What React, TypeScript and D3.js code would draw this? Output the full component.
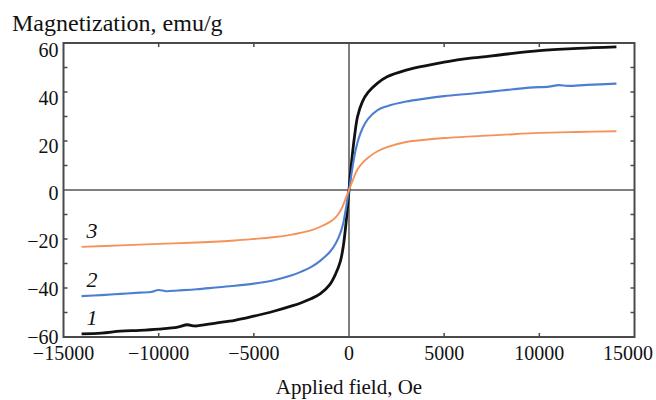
import React from 'react';
import * as d3 from 'd3';

// curve 1 (black)
const field1 = [-14050, -13000, -12000, -11000, -10000, -9000, -8500, -8100, -7000, -6000, -5000, -4000, -3000, -2500, -2000, -1500, -1000, -700, -450, -300, -150, 0, 150, 300, 450, 700, 1000, 1500, 2000, 3000, 4000, 5000, 6500, 8000, 10000, 12000, 14050];
const mag1 = [-58.7, -58.4, -57.6, -57.3, -56.8, -56.0, -55.0, -55.5, -54.3, -53.2, -51.5, -49.6, -47.3, -46.0, -44.4, -42.3, -38.5, -34.2, -29.0, -23.0, -13.0, 0, 12.5, 22.5, 30.0, 36.0, 39.8, 43.6, 46.2, 48.9, 50.7, 52.2, 53.9, 55.2, 56.9, 57.8, 58.4];

// curve 2 (blue)
const field2 = [-14050, -13000, -12000, -11000, -10400, -10000, -9600, -9000, -8000, -7000, -6000, -5000, -4000, -3000, -2500, -2000, -1500, -1000, -700, -450, -300, -150, 0, 150, 300, 450, 700, 1000, 1500, 2000, 3000, 4000, 5000, 6500, 8000, 9500, 10500, 11000, 11500, 12500, 14050];
const mag2 = [-43.3, -42.9, -42.4, -41.9, -41.6, -40.8, -41.3, -41.0, -40.5, -39.8, -39.1, -38.2, -36.9, -34.8, -33.3, -31.5, -28.8, -25.2, -21.8, -17.5, -13.5, -7.0, 0, 7.5, 14.5, 19.5, 25.0, 29.0, 32.6, 34.2, 36.1, 37.3, 38.3, 39.4, 40.6, 41.8, 42.2, 42.8, 42.5, 42.9, 43.4];

// curve 3 (orange)
const field3 = [-14050, -12000, -10000, -8000, -6000, -5000, -4000, -3000, -2500, -2000, -1500, -1000, -700, -450, -300, -150, 0, 150, 300, 450, 700, 1000, 1500, 2000, 3000, 4000, 5000, 6500, 8000, 10000, 12000, 14050];
const mag3 = [-23.2, -22.6, -22.0, -21.4, -20.6, -20.0, -19.3, -18.2, -17.4, -16.5, -15.0, -13.0, -11.2, -8.5, -6.0, -3.0, 0, 3.0, 6.0, 8.5, 11.0, 13.2, 15.8, 17.5, 19.6, 20.5, 21.2, 21.9, 22.5, 23.3, 23.7, 24.0];

const seriesNames = ['1', '2', '3'];
const xTickLabels = [-15000, -10000, -5000, 0, 5000, 10000, 15000];
const yTickLabels = [-60, -40, -20, 0, 20, 40, 60];
const yTicks = [-50, -40, -30, -20, -10, 10, 20, 30, 40, 50];
const xTicks = [-10000, -5000, 5000, 10000];

const width = 656;
const height = 400;
const left = 63.5;
const right = 634.5;
const top = 43;
const bottom = 337;
const font = '"Liberation Serif", "Times New Roman", serif';

const fmt = (v: number) => (v < 0 ? '\u2212' + Math.abs(v) : String(v));

export default function App() {
  const x = d3.scaleLinear().domain([-15000, 15000]).range([left, right]);
  const y = d3.scaleLinear().domain([-60, 60]).range([bottom, top]);
  // the printed labels sit on a slightly compressed scale in the original
  const yLab = d3.scaleLinear().domain([-60, 60]).range([336.7, 50]);

  const series = [
    { name: seriesNames[0], field: field1, mag: mag1, color: '#111111', w: 2.8 },
    { name: seriesNames[1], field: field2, mag: mag2, color: '#4d7fd0', w: 2.1 },
    { name: seriesNames[2], field: field3, mag: mag3, color: '#f5925a', w: 1.9 },
  ];

  const line = d3
    .line<[number, number]>()
    .x((d) => x(d[0]))
    .y((d) => y(d[1]))
    .curve(d3.curveCatmullRom.alpha(0.5));

  const tick = 4;
  const frame = '#4a4a4a';

  return (
    <svg
      width={width}
      height={height}
      style={{ position: 'absolute', left: 0, top: 0, background: '#fff' }}
      fontFamily={font}
    >
      {/* zero lines */}
      <line x1={left} x2={right} y1={y(0)} y2={y(0)} stroke="#555" strokeWidth={1.5} />
      <line x1={x(0)} x2={x(0)} y1={top} y2={bottom} stroke="#555" strokeWidth={1.5} />

      {/* ticks */}
      {xTicks.map((t) => (
        <g key={'xt' + t} stroke={frame} strokeWidth={1.5}>
          <line x1={x(t)} x2={x(t)} y1={bottom} y2={bottom - tick} />
          <line x1={x(t)} x2={x(t)} y1={top} y2={top + tick} />
        </g>
      ))}
      {yTicks.map((t) => (
        <g key={'yt' + t} stroke={frame} strokeWidth={1.5}>
          <line x1={left} x2={left + tick} y1={y(t)} y2={y(t)} />
          <line x1={right} x2={right - tick} y1={y(t)} y2={y(t)} />
        </g>
      ))}

      {/* curves */}
      {series.map((s) => (
        <path
          key={s.name}
          d={line(s.field.map((f, i) => [f, s.mag[i]] as [number, number])) || ''}
          fill="none"
          stroke={s.color}
          strokeWidth={s.w}
          strokeLinejoin="round"
        />
      ))}

      {/* curve labels */}
      {series.map((s) => (
        <text
          key={'l' + s.name}
          x={x(s.field[0]) + 5}
          y={y(s.mag[0]) - 9}
          fontSize={22}
          fontStyle="italic"
          fill="#111"
        >
          {s.name}
        </text>
      ))}

      {/* frame */}
      <rect x={left} y={top} width={right - left} height={bottom - top} fill="none" stroke={frame} strokeWidth={2} />

      {/* tick labels */}
      {xTickLabels.map((t, i) => {
        const last = i === xTickLabels.length - 1;
        return (
          <text
            key={'xl' + t}
            x={last ? width - 3 : x(t)}
            y={360}
            textAnchor={last ? 'end' : 'middle'}
            fontSize={20}
            fill="#111"
          >
            {fmt(t)}
          </text>
        );
      })}
      {yTickLabels.map((t) => (
        <text key={'yl' + t} x={left - 5} y={yLab(t)} dy="0.35em" textAnchor="end" fontSize={20} fill="#111">
          {fmt(t)}
        </text>
      ))}

      {/* axis titles */}
      <text x={12} y={31} fontSize={24} fill="#111">
        Magnetization, emu/g
      </text>
      <text x={(left + right) / 2} y={394} textAnchor="middle" fontSize={21} fill="#111">
        Applied field, Oe
      </text>
    </svg>
  );
}
